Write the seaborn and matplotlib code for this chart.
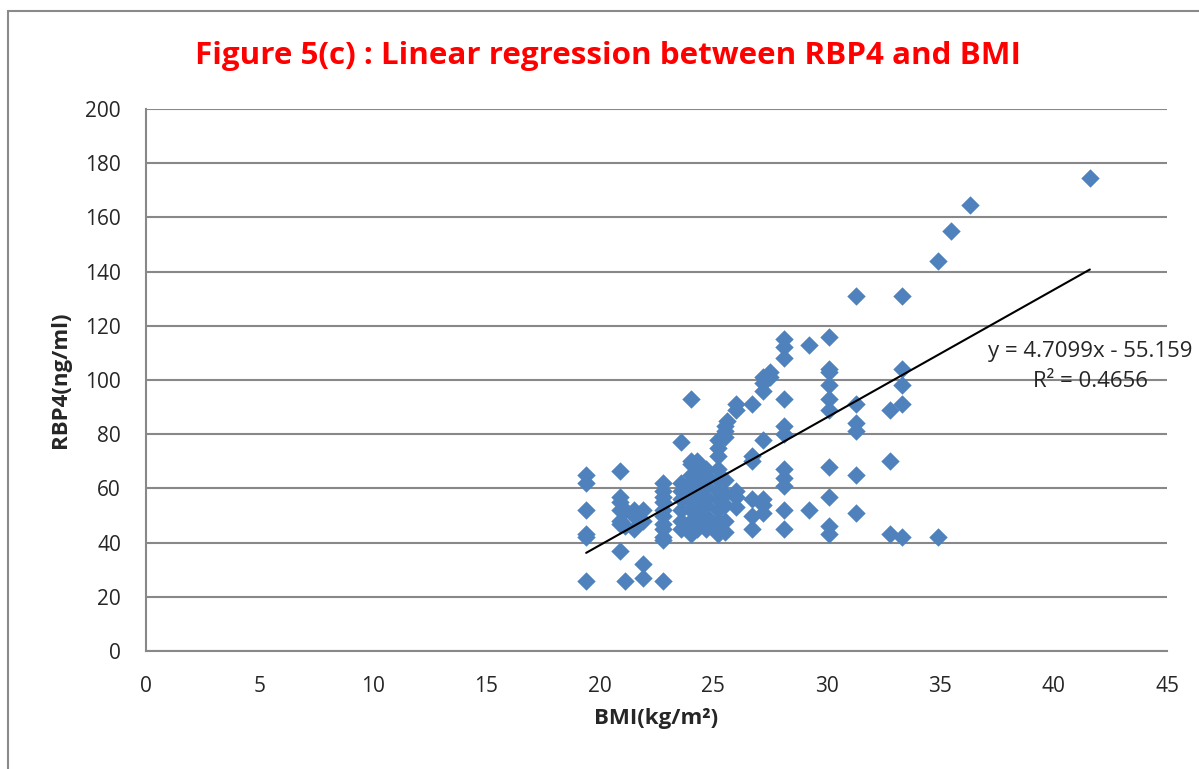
import numpy as np
import pandas as pd
import seaborn as sns
import matplotlib.pyplot as plt
from matplotlib.patches import Rectangle

# Werte
bmi = [19.4, 19.4, 19.4, 19.4, 19.4, 19.4,
       20.9, 20.9, 20.9, 20.9, 20.9, 20.9, 20.9,
       21.1, 21.1, 21.1,
       21.5, 21.5, 21.5,
       21.9, 21.9, 21.9, 21.9,
       22.8, 22.8, 22.8, 22.8, 22.8, 22.8, 22.8, 22.8, 22.8, 22.8, 22.8,
       23.6, 23.6, 23.6, 23.6, 23.6, 23.6, 23.6,
       24.0, 24.0, 24.0, 24.0, 24.0, 24.0, 24.0, 24.0, 24.0, 24.0, 24.0,
       24.3, 24.3, 24.3, 24.3, 24.3, 24.3, 24.3, 24.3, 24.3,
       24.7, 24.7, 24.7, 24.7, 24.7, 24.7, 24.7, 24.7,
       25.2, 25.2, 25.2, 25.2, 25.2, 25.2, 25.2, 25.2, 25.2, 25.2, 25.2,
       25.5, 25.5, 25.5, 25.5, 25.5, 25.5, 25.5, 25.5, 25.6,
       26.0, 26.0, 26.0, 26.0, 26.0,
       26.7, 26.7, 26.7, 26.7, 26.7, 26.7,
       27.2, 27.2, 27.2, 27.2, 27.2, 27.2, 27.2,
       27.5, 27.5,
       28.1, 28.1, 28.1, 28.1, 28.1, 28.1, 28.1, 28.1, 28.1, 28.1, 28.1,
       29.2, 29.2,
       30.1, 30.1, 30.1, 30.1, 30.1, 30.1, 30.1, 30.1, 30.1, 30.1,
       31.3, 31.3, 31.3, 31.3, 31.3, 31.3,
       32.8, 32.8, 32.8,
       33.3, 33.3, 33.3, 33.3, 33.3,
       34.9, 34.9, 35.5, 36.3, 41.6]
rbp4 = [65, 62, 52, 43, 42, 26,
        66.5, 57, 55, 52, 48, 47, 37,
        26, 52, 46,
        52, 50, 45,
        52, 32, 27, 48,
        62, 59, 57, 55, 52, 50, 47, 45, 42, 41, 26,
        77, 62, 59, 56, 52, 48, 45,
        93, 70, 69, 65, 62, 59, 55, 52, 48, 45, 43,
        70, 67, 63, 59, 56, 52, 49, 47, 45,
        67, 65, 61, 57, 54, 50, 47, 45,
        78, 75, 72, 67, 63, 59, 56, 52, 48, 45, 43,
        83, 81, 79, 63, 58, 54, 48, 44, 85,
        91, 89, 59, 57, 53,
        91, 72, 70, 56, 50, 45,
        96, 99, 101, 78, 56, 54, 51,
        101, 103,
        115, 112, 108, 93, 83, 80, 67, 64, 61, 52, 45,
        113, 52,
        116, 104, 103, 98, 93, 89, 68, 57, 46, 43,
        131, 91, 84, 81, 65, 51,
        89, 70, 43,
        131, 104, 98, 91, 42,
        144, 42, 155, 164.5, 174.5]

# Trendlinie laut Beschriftung im Diagramm
slope = 4.7099
intercept = -55.159
r2 = 0.4656

df = pd.DataFrame({"bmi": bmi, "rbp4": rbp4})

sns.set_style("white")
plt.rcParams['font.family'] = ['Open Sans', 'DejaVu Sans']

fig = plt.figure(figsize=(11.99, 7.69), dpi=100)
ax = fig.add_axes([146 / 1199, 1 - 651 / 769, 1021 / 1199, 542 / 769])

# grauer Rahmen um das Diagramm (unten und rechts abgeschnitten)
fig.patches.append(Rectangle((8 / 1199, -0.05), 1.1, 1.05 - 11 / 769, transform=fig.transFigure,
                             fill=False, edgecolor="#8a8a8a", linewidth=1.5))

sns.scatterplot(data=df, x="bmi", y="rbp4", marker="D", s=88, color="#4f81bd",
                linewidth=0, ax=ax, zorder=3)

xs = np.array([min(bmi), max(bmi)])
ax.plot(xs, slope * xs + intercept, color="black", linewidth=1.5, zorder=4)

ax.set_xlim(0, 45)
ax.set_ylim(0, 200)
ax.set_xticks(range(0, 46, 5))
ax.set_yticks(range(0, 201, 20))
ax.yaxis.grid(True, color="#888888", linewidth=1.5)
ax.set_axisbelow(True)
for side in ["top", "right"]:
    ax.spines[side].set_visible(False)
for side in ["left", "bottom"]:
    ax.spines[side].set_color("#888888")
    ax.spines[side].set_linewidth(1.5)
ax.tick_params(axis="x", direction="out", length=6, width=1.5, color="#888888",
               labelsize=15, pad=12)
ax.tick_params(axis="y", direction="out", length=6, width=1.5, color="#888888",
               labelsize=15, pad=12)

ax.set_xlabel("BMI(kg/m²)", fontsize=16, fontweight="bold", labelpad=8)
ax.set_ylabel("RBP4(ng/ml)", fontsize=16, fontweight="bold", labelpad=10)

ax.text(0.9246, 0.525, f"y = {slope}x - {abs(intercept)}\nR² = {r2}", transform=ax.transAxes,
        ha="center", va="center", multialignment="center", fontsize=16, linespacing=1.55)

fig.text(608 / 1199, 1 - 56 / 769, "Figure 5(c) : Linear regression between RBP4 and BMI",
         ha="center", va="center", color="#ff0000", fontsize=22.6, fontweight="bold")

fig.savefig("out.png", dpi=100)
